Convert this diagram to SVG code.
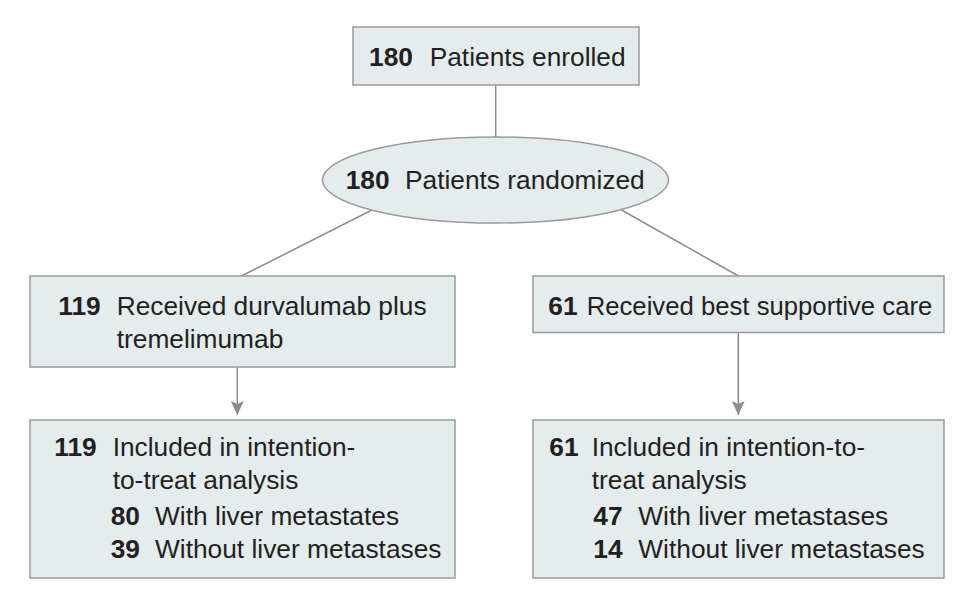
<svg xmlns="http://www.w3.org/2000/svg" width="979" height="616" viewBox="0 0 979 616">
<style>
.box{fill:#e5ecee;stroke:#9a9a9a;stroke-width:1.5}
.ln{stroke:#8c8c8c;stroke-width:1.5;fill:none}
text{font-family:"Liberation Sans",Arial,sans-serif;font-size:26.3px;fill:#231f20}
.b{font-weight:bold}
</style>
<defs>
<marker id="ah" markerUnits="userSpaceOnUse" markerWidth="16" markerHeight="14" refX="15" refY="7" orient="auto" viewBox="0 0 16 14">
<path d="M1,0.5 L15,7 L1,13.5 L4,7 Z" fill="#8c8c8c"/>
</marker>
</defs>
<rect width="979" height="616" fill="#ffffff"/>
<g id="connectors">
<line class="ln" x1="495.7" y1="85" x2="495.7" y2="137"/>
<line class="ln" x1="372" y1="210" x2="241.5" y2="276"/>
<line class="ln" x1="621.5" y1="210" x2="738.5" y2="276"/>
<line class="ln" x1="237.3" y1="367" x2="237.3" y2="415" marker-end="url(#ah)"/>
<line class="ln" x1="738.3" y1="332.5" x2="738.3" y2="415" marker-end="url(#ah)"/>
</g>
<g id="enrolled">
<rect class="box" x="353" y="27" width="286" height="58"/>
<text x="369" y="66"><tspan class="b">180</tspan><tspan x="429.7">Patients enrolled</tspan></text>
</g>
<g id="randomized">
<ellipse class="box" cx="495.5" cy="180" rx="173" ry="43"/>
<text x="345.7" y="189"><tspan class="b">180</tspan><tspan x="405">Patients randomized</tspan></text>
</g>
<g id="durvalumab">
<rect class="box" x="30" y="276" width="425" height="91"/>
<text x="58.3" y="315"><tspan class="b">119</tspan><tspan x="116.7">Received durvalumab plus</tspan></text>
<text x="116.7" y="348.3">tremelimumab</text>
</g>
<g id="bsc">
<rect class="box" x="533" y="276" width="411" height="56.5"/>
<text x="548.3" y="315"><tspan class="b">61</tspan><tspan x="586.7" textLength="345.6" lengthAdjust="spacingAndGlyphs">Received best supportive care</tspan></text>
</g>
<g id="itt-left">
<rect class="box" x="30" y="420" width="425" height="158"/>
<text x="54.3" y="456"><tspan class="b">119</tspan><tspan x="112.7">Included in intention-</tspan></text>
<text x="112.7" y="489.3">to-treat analysis</text>
<text x="110.7" y="525"><tspan class="b">80</tspan><tspan x="155">With liver metastates</tspan></text>
<text x="110.7" y="558.3"><tspan class="b">39</tspan><tspan x="155">Without liver metastases</tspan></text>
</g>
<g id="itt-right">
<rect class="box" x="533" y="420" width="411" height="158"/>
<text x="549.3" y="456"><tspan class="b">61</tspan><tspan x="591.7">Included in intention-to-</tspan></text>
<text x="591.7" y="489.3">treat analysis</text>
<text x="593.3" y="525"><tspan class="b">47</tspan><tspan x="638.3">With liver metastases</tspan></text>
<text x="593.3" y="558.3"><tspan class="b">14</tspan><tspan x="638.3">Without liver metastases</tspan></text>
</g>
</svg>
